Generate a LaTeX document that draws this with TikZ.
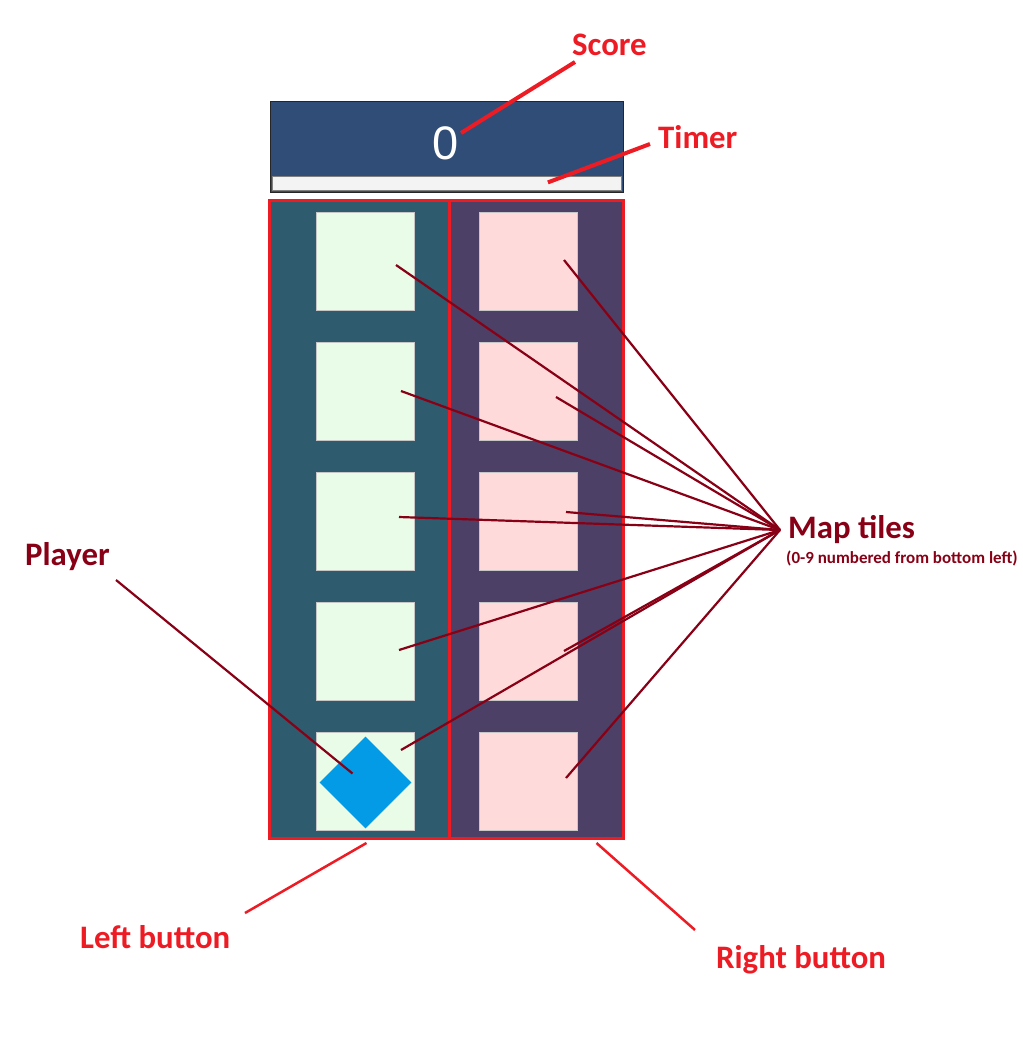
\documentclass[tikz,border=0pt]{standalone}
\usepackage{fontspec}
\setmainfont{Carlito}
\newfontfamily\scorefont{Liberation Sans}
\usetikzlibrary{positioning, calc}
\definecolor{mspred}{RGB}{237,28,36}
\definecolor{mspdark}{RGB}{136,0,21}
\definecolor{hudblue}{RGB}{48,77,119}
\definecolor{timerwhite}{RGB}{243,243,243}
\definecolor{laneteal}{RGB}{46,91,109}
\definecolor{lanepurple}{RGB}{77,64,102}
\definecolor{tilegreen}{RGB}{232,252,232}
\definecolor{tilepink}{RGB}{255,218,218}
\definecolor{playerblue}{RGB}{3,155,229}

\begin{document}
\begin{tikzpicture}[x=1pt, y=-1pt,
  lane/.style={draw=mspred, line width=3pt, anchor=north west, inner sep=0pt,
    minimum height=638pt},
  tile/.style={draw=gray!45, line width=0.6pt, inner sep=0pt,
    minimum width=98pt, minimum height=98pt},
  callout/.style={font=\fontsize{32.8}{36}\selectfont\bfseries, inner sep=0pt, anchor=base west},
  redlead/.style={draw=mspred, line width=4pt},
  redthin/.style={draw=mspred, line width=2.5pt},
  darklead/.style={draw=mspdark, line width=2.2pt}
]
  \useasboundingbox (0,0) rectangle (1023,1058);

  % score panel
  \node[draw=black!85, line width=1pt, fill=hudblue, anchor=north west, inner sep=0pt,
    minimum width=353pt, minimum height=91pt] (hud) at (270,101) {};
  \node[draw=gray, line width=0.8pt, fill=timerwhite, anchor=north west, inner sep=0pt,
    minimum width=349pt, minimum height=14pt] (timer) at (272,176) {};
  \node[text=white, inner sep=0pt, font=\scorefont\fontsize{47}{50}\selectfont] (zero) at (446,143) {0};

  % the two lanes, also the buttons
  \node[lane, fill=laneteal, minimum width=180pt] (leftlane) at (268,199) {};
  \node[lane, fill=lanepurple, minimum width=174pt] (rightlane) at (448,199) {};

  % map tiles: left column 0-4, right column 5-9
  \foreach \row in {0,...,4} {
    \pgfmathtruncatemacro{\rt}{\row+5}
    \node[tile, fill=tilegreen] (t\row) at (365,781-130*\row) {};
    \node[tile, fill=tilepink] (t\rt) at (528,781-130*\row) {};
  }
  \node[fill=playerblue, rotate=45, inner sep=0pt, minimum size=65pt] (player) at (365.5,782.5) {};

  % labels
  \node[callout, text=mspred] (scorelbl) at (572,55) {Score};
  \node[callout, text=mspred] (timerlbl) at (658,148) {Timer};
  \node[callout, text=mspdark] (maplbl) at (788,538) {Map tiles};
  \node[font=\fontsize{17}{19}\selectfont\bfseries, text=mspdark, inner sep=0pt,
    anchor=base west] (mapnote) at (786,563) {(0-9 numbered from bottom left)};
  \node[callout, text=mspdark] (playerlbl) at (25,565) {Player};
  \node[callout, text=mspred] (leftlbl) at (80,948) {Left button};
  \node[callout, text=mspred] (rightlbl) at (716,968) {Right button};

  \coordinate (hub) at (780,530);
  \coordinate (scoretail) at (575,62);
  \coordinate (timertail) at (650,144);
  \coordinate (playertail) at (116,580);
  \coordinate (lefttail) at (245,913);
  \coordinate (righttail) at (695,930);

  % leaders
  \draw[redlead] (scoretail) -- ([shift={(15,-10)}]zero.center);
  \draw[redlead] (timertail) -- ([shift={(101,-1)}]timer.center);
  \draw[redthin] (lefttail) -- ([shift={(7,3)}]leftlane.south);
  \draw[redthin] (righttail) -- ([shift={(60,3)}]rightlane.south);
  \foreach \t/\dx/\dy in {0/36/-31, 1/34/-1, 2/34/-4, 3/36/0, 4/31/4,
                          5/38/-3, 6/36/0, 7/38/-9, 8/28/6, 9/36/-1}
    \draw[darklead] (hub) -- ([shift={(\dx,\dy)}]t\t.center);
  \draw[darklead] (playertail) -- ([shift={(-13,-9)}]player.center);
\end{tikzpicture}
\end{document}
